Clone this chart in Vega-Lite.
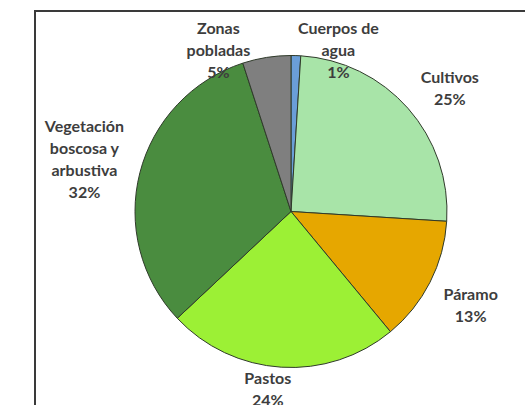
{
  "$schema": "https://vega.github.io/schema/vega-lite/v6.json",
  "width": 512,
  "height": 401,
  "autosize": "none",
  "padding": {"left": 35, "top": 11, "right": 0, "bottom": 0},
  "background": "white",
  "view": {"stroke": "#3a3a3a", "strokeWidth": 2, "fill": "white"},
  "config": {"view": {"stroke": "#3a3a3a", "strokeWidth": 2}},
  "data": {
    "values": [
      {"order": 1, "category": "Cuerpos de agua", "value": 1, "label": "Cuerpos de\nagua\n1%"},
      {"order": 2, "category": "Cultivos", "value": 25, "label": "Cultivos\n25%"},
      {"order": 3, "category": "Páramo", "value": 13, "label": "Páramo\n13%"},
      {"order": 4, "category": "Pastos", "value": 24, "label": "Pastos\n24%"},
      {"order": 5, "category": "Vegetación boscosa y arbustiva", "value": 32, "label": "Vegetación\nboscosa y\narbustiva\n32%"},
      {"order": 6, "category": "Zonas pobladas", "value": 5, "label": "Zonas\npobladas\n5%"}
    ]
  },
  "transform": [
    {"stack": "value", "groupby": [], "as": ["v0", "v1"], "sort": [{"field": "order", "order": "ascending"}]},
    {"calculate": "(datum.v0 + datum.v1) / 2", "as": "mid"}
  ],
  "layer": [
    {
      "mark": {"type": "arc", "outerRadius": 156, "stroke": "#2f3a2a", "strokeWidth": 1},
      "encoding": {
        "theta": {"field": "v0", "type": "quantitative", "scale": {"domain": [0, 100]}},
        "theta2": {"field": "v1"},
        "color": {
          "field": "category",
          "type": "nominal",
          "scale": {
            "domain": ["Cuerpos de agua", "Cultivos", "Páramo", "Pastos", "Vegetación boscosa y arbustiva", "Zonas pobladas"],
            "range": ["#6a9ed8", "#a8e4a8", "#e6a700", "#9cf035", "#4a8c3f", "#7f7f7f"]
          },
          "legend": null
        }
      }
    },
    {
      "transform": [{"filter": "datum.category == 'Páramo'"}],
      "mark": {"type": "text", "radius": 205, "dx": -3, "dy": -10, "font": "Lato", "fontWeight": "bold", "fontSize": 16, "lineHeight": 22, "lineBreak": "\n", "fill": "#3d3d3d", "align": "center", "baseline": "middle"},
      "encoding": {"theta": {"field": "mid", "type": "quantitative"}, "text": {"field": "label"}}
    },
    {
      "transform": [{"filter": "datum.category == 'Vegetación boscosa y arbustiva'"}],
      "mark": {"type": "text", "radius": 205, "dx": -8, "dy": -34, "font": "Lato", "fontWeight": "bold", "fontSize": 16, "lineHeight": 22, "lineBreak": "\n", "fill": "#3d3d3d", "align": "center", "baseline": "middle"},
      "encoding": {"theta": {"field": "mid", "type": "quantitative"}, "text": {"field": "label"}}
    },
    {
      "transform": [{"filter": "datum.category == 'Cultivos'"}],
      "mark": {"type": "text", "radius": 205, "dx": 5, "dy": 2, "font": "Lato", "fontWeight": "bold", "fontSize": 16, "lineHeight": 22, "lineBreak": "\n", "fill": "#3d3d3d", "align": "center", "baseline": "middle"},
      "encoding": {"theta": {"field": "mid", "type": "quantitative"}, "text": {"field": "label"}}
    },
    {
      "transform": [{"filter": "datum.category == 'Pastos'"}],
      "mark": {"type": "text", "radius": 178, "dx": -12, "dy": -10, "font": "Lato", "fontWeight": "bold", "fontSize": 16, "lineHeight": 22, "lineBreak": "\n", "fill": "#3d3d3d", "align": "center", "baseline": "middle"},
      "encoding": {"theta": {"field": "mid", "type": "quantitative"}, "text": {"field": "label"}}
    },
    {
      "transform": [{"filter": "datum.category == 'Zonas pobladas'"}],
      "mark": {"type": "text", "radius": 170, "dx": -46, "dy": -15, "font": "Lato", "fontWeight": "bold", "fontSize": 16, "lineHeight": 22, "lineBreak": "\n", "fill": "#3d3d3d", "align": "center", "baseline": "middle"},
      "encoding": {"theta": {"field": "mid", "type": "quantitative"}, "text": {"field": "label"}}
    },
    {
      "transform": [{"filter": "datum.category == 'Cuerpos de agua'"}],
      "mark": {"type": "text", "radius": 170, "dx": 42, "dy": -13, "font": "Lato", "fontWeight": "bold", "fontSize": 16, "lineHeight": 22, "lineBreak": "\n", "fill": "#3d3d3d", "align": "center", "baseline": "middle"},
      "encoding": {"theta": {"field": "mid", "type": "quantitative"}, "text": {"field": "label"}}
    }
  ]
}
